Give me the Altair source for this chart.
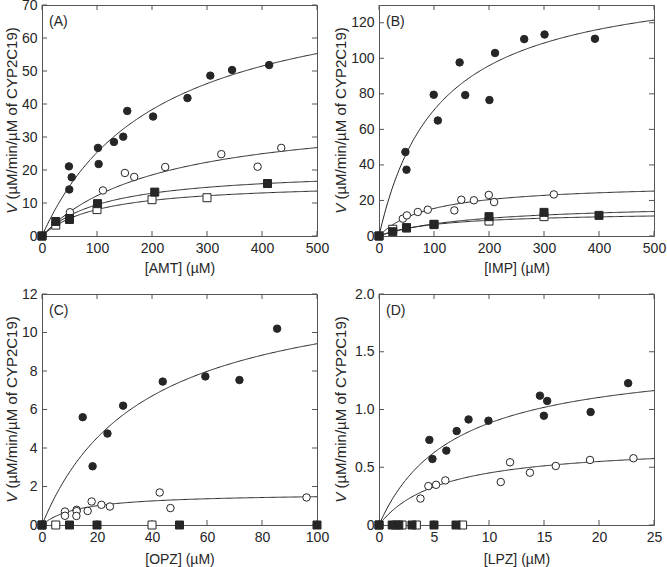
import altair as alt
import pandas as pd

# ---------------- data ----------------
# (A) AMT
A_fc_x = [0, 49, 49.6, 54, 101.7, 103, 130.8, 147.7, 155, 202, 264.5, 306, 345.6, 413]
A_fc_y = [0, 21.1, 14.1, 17.8, 26.7, 21.8, 28.5, 30.1, 37.9, 36.2, 41.8, 48.6, 50.3, 51.8]
A_oc_x = [0, 50.8, 110.8, 150.7, 167.7, 224, 326, 392, 435]
A_oc_y = [0, 7.2, 13.8, 19.1, 17.9, 20.9, 24.8, 21.0, 26.7]
A_fs_x = [0, 25, 50, 101, 205, 410]
A_fs_y = [0, 4.4, 5.3, 9.8, 13.3, 15.9]
A_os_x = [0, 25, 50, 100, 200, 300]
A_os_y = [0, 3.3, 5.0, 8.0, 11.0, 11.6]
# Michaelis-Menten fits: (Vmax, Km) for filled circle, open circle, filled square, open square
A_fits = [(78.5, 210), (38.2, 213), (20.4, 115), (16.5, 106)]

# (B) IMP
B_fc_x = [0, 48, 50, 99.5, 107, 146.6, 156.8, 200.8, 211, 264, 301, 392.6]
B_fc_y = [0, 47.3, 37.3, 79.5, 65, 97.7, 79.3, 76.5, 103, 110.8, 113.4, 111]
B_oc_x = [0, 43.3, 50.7, 70.6, 88.7, 137, 149.6, 172.5, 199.6, 209.3, 317.9]
B_oc_y = [0, 9.75, 11.6, 13.5, 14.8, 14.4, 20.4, 20.1, 23.1, 19.1, 23.4]
B_fs_x = [0, 25, 50, 100, 200, 300, 400]
B_fs_y = [0, 2.4, 4.7, 6.6, 10.9, 13.3, 11.6]
B_os_x = [0, 25, 50, 100, 200, 300]
B_os_y = [0, 3.8, 4.5, 6.4, 8.4, 10.9]
B_fits = [(147.9, 108.6), (30.0, 93.5), (18.6, 173), (13.8, 113)]

# (C) OPZ
C_fc_x = [0, 14.8, 18.4, 23.8, 29.5, 43.9, 59.4, 71.8, 85.5]
C_fc_y = [0, 5.6, 3.05, 4.75, 6.2, 7.45, 7.72, 7.53, 10.2]
C_oc_x = [0, 8.35, 8.35, 12.6, 12.6, 12.5, 16.6, 18.05, 21.6, 24.7, 42.8, 46.7, 96.2]
C_oc_y = [0, 0.70, 0.48, 0.79, 0.72, 0.47, 0.73, 1.22, 1.05, 0.96, 1.69, 0.88, 1.43]
C_fs_x = [0, 10, 20, 50, 100]
C_fs_y = [0, 0, 0, 0, 0]
C_os_x = [0, 5, 40]
C_os_y = [0, 0, 0]
C_fits = [(12.9, 37), (1.665, 13.3)]

# (D) LPZ
D_fc_x = [0, 4.58, 4.86, 6.12, 7.06, 8.14, 9.95, 14.63, 15.29, 14.99, 19.24, 22.65]
D_fc_y = [0, 0.737, 0.572, 0.644, 0.813, 0.914, 0.903, 1.12, 1.074, 0.946, 0.978, 1.228]
D_oc_x = [0, 3.77, 4.49, 5.19, 6.03, 11.07, 11.91, 13.72, 16.07, 19.18, 23.13]
D_oc_y = [0, 0.229, 0.337, 0.348, 0.386, 0.372, 0.543, 0.453, 0.511, 0.563, 0.578]
D_fs_x = [0, 1.2, 1.5, 1.8, 3.0, 5.0, 7.0]
D_fs_y = [0, 0, 0, 0, 0, 0, 0]
D_os_x = [0, 2.1, 3.4, 7.6]
D_os_y = [0, 0, 0, 0]
D_fits = [(1.48, 6.8), (0.706, 5.68)]

# axis ticks
A_xticks = [0, 100, 200, 300, 400, 500]
A_yticks = [0, 10, 20, 30, 40, 50, 60, 70]
B_xticks = [0, 100, 200, 300, 400, 500]
B_yticks = [0, 20, 40, 60, 80, 100, 120]
C_xticks = [0, 20, 40, 60, 80, 100]
C_yticks = [0, 2, 4, 6, 8, 10, 12]
D_xticks = [0, 5, 10, 15, 20, 25]
D_yticks = [0, 0.5, 1.0, 1.5, 2.0]

# ---------------- styling ----------------
W, H = 275, 231
FONT = "Liberation Sans"
INK = "#262626"
FRAME = "#555555"
TICK_LEN = 5
YT_SIZE = 15
EM_V = 0.667
EM_SPACE = 0.278
EM_REST = 11.487


def points(xs, ys, shape, filled, size):
    df = pd.DataFrame({"x": xs, "v": ys})
    return df, shape, filled, size


def panel(letter, xname, xmax, ymax, xticks, yticks, series, fits,
          ylabel_expr, ytitle_dx, xtitle_pad):
    xs = alt.Scale(domain=[0, xmax], nice=False, zero=False, padding=0)
    ys = alt.Scale(domain=[0, ymax], nice=False, zero=False, padding=0)
    xaxis = alt.Axis(values=xticks, title=xname, titlePadding=xtitle_pad)
    yaxis = alt.Axis(values=yticks, title=None, labelExpr=ylabel_expr)
    X = alt.X("x:Q", scale=xs, axis=xaxis)
    Y = alt.Y("v:Q", scale=ys, axis=yaxis)

    step = xmax / 250
    layers = []
    # fitted curves
    for vmax, km in fits:
        layers.append(
            alt.Chart(alt.sequence(0, xmax + step / 2, step, as_="x"))
            .transform_calculate(v=f"{vmax}*datum.x/({km}+datum.x)")
            .mark_line(color=INK, strokeWidth=1, clip=True)
            .encode(x=X, y=Y)
        )
    # inward ticks on all four sides
    dfx = pd.DataFrame({"x": xticks})
    dfy = pd.DataFrame({"v": yticks})
    tick = dict(color=FRAME, strokeWidth=1)
    layers.append(alt.Chart(dfx).mark_rule(**tick).encode(
        x=X, y=alt.value(H), y2=alt.value(H - TICK_LEN)))
    layers.append(alt.Chart(dfx).mark_rule(**tick).encode(
        x=X, y=alt.value(0), y2=alt.value(TICK_LEN)))
    layers.append(alt.Chart(dfy).mark_rule(**tick).encode(
        y=Y, x=alt.value(0), x2=alt.value(TICK_LEN)))
    layers.append(alt.Chart(dfy).mark_rule(**tick).encode(
        y=Y, x=alt.value(W), x2=alt.value(W - TICK_LEN)))
    # data points
    for df, shape, filled, size in series:
        layers.append(
            alt.Chart(df).mark_point(
                shape=shape, filled=True,
                fill=INK if filled else "white",
                stroke=INK, strokeWidth=1, size=size, opacity=1,
            ).encode(x=X, y=Y)
        )
    # panel letter
    layers.append(
        alt.Chart(pd.DataFrame({"t": [f"({letter})"]})).mark_text(
            align="left", baseline="middle", font=FONT, fontSize=14, color=INK
        ).encode(x=alt.value(7), y=alt.value(17), text="t:N")
    )
    # y title: italic V, a space, then the units
    total = (EM_V + EM_SPACE + EM_REST) * YT_SIZE
    y_start = H / 2 + total / 2
    y_rest = y_start - (EM_V + EM_SPACE) * YT_SIZE
    layers.append(
        alt.Chart(pd.DataFrame({"t": ["V"]})).mark_text(
            align="left", baseline="middle", angle=270, font=FONT,
            fontSize=YT_SIZE, fontStyle="italic", color=INK
        ).encode(x=alt.value(ytitle_dx), y=alt.value(y_start), text="t:N")
    )
    layers.append(
        alt.Chart(pd.DataFrame({"t": ["(µM/min/µM of CYP2C19)"]})).mark_text(
            align="left", baseline="middle", angle=270, font=FONT,
            fontSize=YT_SIZE, color=INK
        ).encode(x=alt.value(ytitle_dx), y=alt.value(y_rest), text="t:N")
    )
    return alt.layer(*layers).properties(width=W, height=H)


CS, CL = 56, 64  # circle / square marker sizes

pA = panel("A", "[AMT] (µM)", 500, 70, A_xticks, A_yticks,
           [points(A_os_x, A_os_y, "square", False, CL),
            points(A_oc_x, A_oc_y, "circle", False, CS),
            points(A_fs_x, A_fs_y, "square", True, CL),
            points(A_fc_x, A_fc_y, "circle", True, CS)],
           A_fits, "datum.label", -30, 6)
pB = panel("B", "[IMP] (µM)", 500, 130, B_xticks, B_yticks,
           [points(B_os_x, B_os_y, "square", False, CL),
            points(B_oc_x, B_oc_y, "circle", False, CS),
            points(B_fs_x, B_fs_y, "square", True, CL),
            points(B_fc_x, B_fc_y, "circle", True, CS)],
           B_fits, "datum.label", -38, 6)
pC = panel("C", "[OPZ] (µM)", 100, 12, C_xticks, C_yticks,
           [points(C_os_x, C_os_y, "square", False, CL),
            points(C_oc_x, C_oc_y, "circle", False, CS),
            points(C_fs_x, C_fs_y, "square", True, CL),
            points(C_fc_x, C_fc_y, "circle", True, CS)],
           C_fits, "datum.label", -30, 8)
pD = panel("D", "[LPZ] (µM)", 25, 2.0, D_xticks, D_yticks,
           [points(D_os_x, D_os_y, "square", False, CL),
            points(D_oc_x, D_oc_y, "circle", False, CS),
            points(D_fs_x, D_fs_y, "square", True, CL),
            points(D_fc_x, D_fc_y, "circle", True, CS)],
           D_fits, "datum.value == 0 ? '0' : format(datum.value, '.1f')", -38, 8)

chart = (
    alt.concat(pA, pB, pC, pD, columns=2, spacing={"row": 58, "column": 62})
    .properties(bounds="flush", padding={"left": 4, "top": -3, "right": 0, "bottom": 0},
                background="white")
    .configure_view(stroke=FRAME, strokeWidth=1)
    .configure_axis(
        domain=False, ticks=False, tickSize=0, grid=False, labelFlush=False,
        labelFont=FONT, labelFontSize=14, labelColor=INK, labelPadding=5,
        titleFont=FONT, titleFontSize=14, titleFontWeight="normal", titleColor=INK,
    )
)

chart.save("out.html", embed_options={"renderer": "svg", "actions": False})
